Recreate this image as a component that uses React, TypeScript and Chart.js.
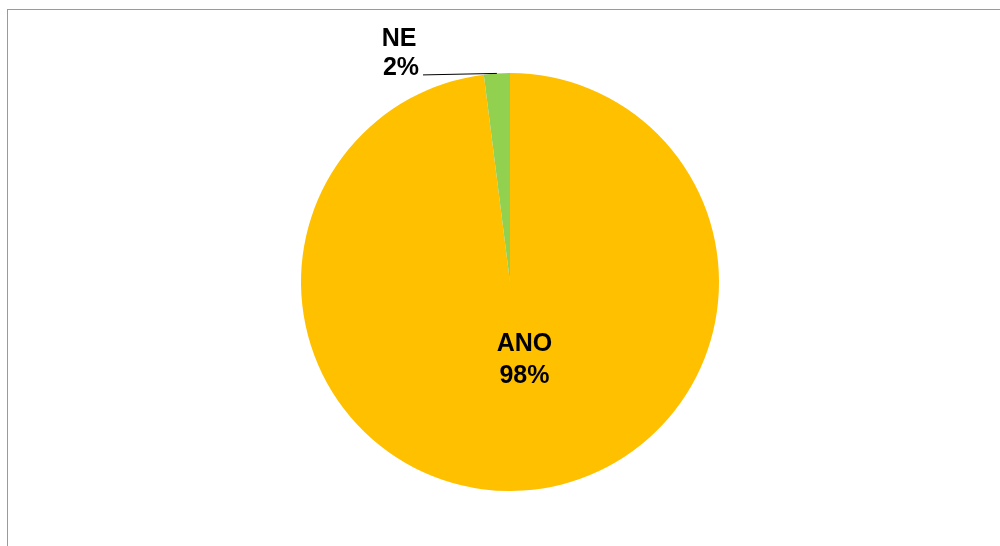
import React, { useEffect, useRef } from "react";
import { Chart, registerables } from "chart.js";

Chart.register(...registerables);

const categories = ["ANO", "NE"];
const values = [98, 2];
const percentLabels = ["98%", "2%"];
const colors = ["#FFC000", "#92D050"];

const labelPlugin = {
  id: "customLabels",
  afterDatasetsDraw(chart: any) {
    const ctx = chart.ctx;
    const meta = chart.getDatasetMeta(0);
    ctx.save();
    ctx.font = "bold 25px 'Liberation Sans', Arial, sans-serif";
    ctx.fillStyle = "#000000";
    ctx.textAlign = "center";
    ctx.textBaseline = "middle";
    meta.data.forEach((arc: any, i: number) => {
      const { x, y, outerRadius, startAngle, endAngle } = arc.getProps(
        ["x", "y", "outerRadius", "startAngle", "endAngle"],
        true
      );
      const r = outerRadius;
      if (i === 0) {
        const lx = x + r * 0.069;
        const ly = y + r * 0.297;
        ctx.fillText(categories[i], lx, ly);
        ctx.fillText(percentLabels[i], lx, ly + 32);
      } else {
        const mid = (startAngle + endAngle) / 2;
        const ex = x + r * Math.cos(mid);
        const ey = y + r * Math.sin(mid);
        const lx = x - r * 0.531;
        const ly = y - r * 1.16;
        ctx.fillText(categories[i], lx, ly);
        ctx.fillText(percentLabels[i], lx + 2, ly + 29);
        ctx.strokeStyle = "#000000";
        ctx.lineWidth = 1;
        ctx.beginPath();
        ctx.moveTo(lx + 24, ey + 1.5);
        ctx.lineTo(ex, ey);
        ctx.stroke();
      }
    });
    ctx.restore();
  },
};

export default function App() {
  const ref = useRef<HTMLCanvasElement | null>(null);
  useEffect(() => {
    if (!ref.current) return;
    const chart = new Chart(ref.current, {
      type: "pie",
      data: {
        labels: categories,
        datasets: [
          {
            data: values,
            backgroundColor: colors,
            borderWidth: 0,
          },
        ],
      },
      options: {
        animation: false,
        responsive: false,
        maintainAspectRatio: false,
        layout: { padding: { top: 73, bottom: 55, left: 20, right: 0 } },
        plugins: {
          legend: { display: false },
          tooltip: { enabled: false },
        },
      },
      plugins: [labelPlugin],
    });
    return () => chart.destroy();
  }, []);
  return (
    <div
      style={{
        position: "fixed",
        left: 0,
        top: 0,
        width: 1000,
        height: 546,
        overflow: "hidden",
        background: "#ffffff",
      }}
    >
      <div
        style={{
          position: "absolute",
          left: 7,
          top: 9,
          width: 1100,
          height: 700,
          borderLeft: "1px solid #9a9a9a",
          borderTop: "1px solid #9a9a9a",
        }}
      />
      <canvas
        ref={ref}
        width={1000}
        height={546}
        style={{ position: "absolute", left: 0, top: 0, width: 1000, height: 546 }}
      />
    </div>
  );
}
